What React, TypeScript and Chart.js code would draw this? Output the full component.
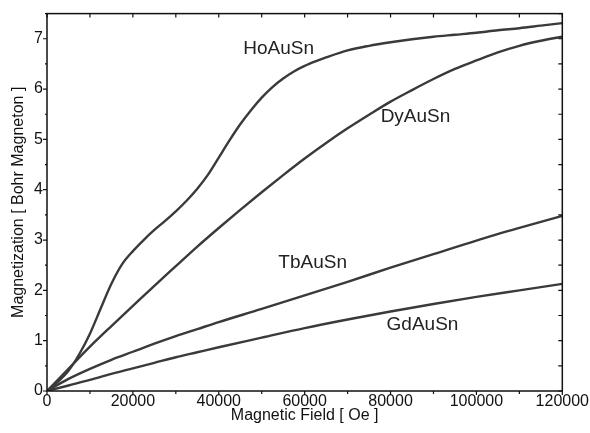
import React, { useEffect, useRef } from "react";
import { Chart, registerables } from "chart.js";

Chart.register(...registerables);

const hoField = [0, 2500, 5000, 7500, 10000, 12500, 15000, 17500, 20000, 22500, 25000, 27500, 30000, 32500, 35000, 37500, 40000, 42500, 45000, 47500, 50000, 52500, 55000, 57500, 60000, 62500, 65000, 70000, 75000, 80000, 85000, 90000, 95000, 100000, 105000, 110000, 115000, 120000];
const hoMag = [0, 0.18, 0.4, 0.73, 1.14, 1.64, 2.13, 2.52, 2.78, 3.0, 3.2, 3.38, 3.57, 3.78, 4.02, 4.3, 4.64, 4.98, 5.3, 5.58, 5.83, 6.04, 6.21, 6.35, 6.46, 6.55, 6.63, 6.77, 6.86, 6.93, 6.99, 7.04, 7.08, 7.12, 7.17, 7.21, 7.26, 7.31];

const dyField = [0, 5000, 10000, 15000, 20000, 25000, 30000, 35000, 40000, 45000, 50000, 55000, 60000, 65000, 70000, 75000, 80000, 85000, 90000, 95000, 100000, 105000, 110000, 115000, 120000];
const dyMag = [0, 0.44, 0.88, 1.29, 1.69, 2.09, 2.48, 2.87, 3.24, 3.6, 3.95, 4.29, 4.62, 4.93, 5.22, 5.49, 5.75, 5.98, 6.2, 6.4, 6.57, 6.73, 6.86, 6.96, 7.04];

const tbField = [0, 5000, 10000, 15000, 20000, 25000, 30000, 35000, 40000, 50000, 60000, 70000, 80000, 90000, 100000, 110000, 120000];
const tbMag = [0, 0.24, 0.44, 0.62, 0.78, 0.94, 1.09, 1.23, 1.37, 1.63, 1.9, 2.17, 2.45, 2.72, 2.99, 3.24, 3.48];

const gdField = [0, 5000, 10000, 15000, 20000, 25000, 30000, 35000, 40000, 50000, 60000, 70000, 80000, 90000, 100000, 110000, 120000];
const gdMag = [0, 0.11, 0.22, 0.34, 0.45, 0.56, 0.67, 0.77, 0.87, 1.06, 1.25, 1.42, 1.58, 1.73, 1.87, 2.0, 2.13];

const seriesNames = ["HoAuSn", "DyAuSn", "TbAuSn", "GdAuSn"];
const labelField = [53950, 85810, 61860, 87440];
const labelMag = [6.8, 5.45, 2.54, 1.31];

const xTitle = "Magnetic Field [ Oe ]";
const yTitle = "Magnetization [ Bohr Magneton ]";

const toPoints = (xs: number[], ys: number[]) => xs.map((x, i) => ({ x, y: ys[i] }));

const framePlugin = {
  id: "frameAndLabels",
  afterDraw(chart: any) {
    const { ctx, chartArea } = chart;
    const { left, right, top, bottom } = chartArea;
    const xs = chart.scales.x;
    const ys = chart.scales.y;
    ctx.save();
    ctx.strokeStyle = "#111";
    ctx.lineWidth = 1.5;
    ctx.strokeRect(left, top, right - left, bottom - top);
    ctx.lineWidth = 1.2;
    ctx.beginPath();
    for (let v = 0; v <= 120000; v += 10000) {
      const px = xs.getPixelForValue(v);
      const major = v % 20000 === 0;
      ctx.moveTo(px, bottom);
      ctx.lineTo(px, bottom + (major ? 4 : 3));
      ctx.moveTo(px, top);
      ctx.lineTo(px, top + 4);
    }
    for (let v = 0; v <= 7.5; v += 0.5) {
      const py = ys.getPixelForValue(v);
      const major = Math.abs(v - Math.round(v)) < 1e-6;
      ctx.moveTo(left, py);
      ctx.lineTo(left - (major ? 4 : 2), py);
      ctx.moveTo(right, py);
      ctx.lineTo(right - 4, py);
    }
    ctx.stroke();
    ctx.fillStyle = "#222";
    ctx.font = "19px 'Liberation Sans', Arial, sans-serif";
    ctx.textAlign = "center";
    ctx.textBaseline = "middle";
    seriesNames.forEach((name, i) => {
      ctx.fillText(name, xs.getPixelForValue(labelField[i]), ys.getPixelForValue(labelMag[i]));
    });
    ctx.restore();
  },
};

export default function App() {
  const ref = useRef<HTMLCanvasElement | null>(null);
  useEffect(() => {
    if (!ref.current) return;
    const lineStyle = {
      borderColor: "#3a3a3a",
      borderWidth: 2.4,
      pointRadius: 0,
      fill: false,
      cubicInterpolationMode: "monotone" as const,
    };
    const chart = new Chart(ref.current, {
      type: "line",
      data: {
        datasets: [
          { label: seriesNames[0], data: toPoints(hoField, hoMag), ...lineStyle },
          { label: seriesNames[1], data: toPoints(dyField, dyMag), ...lineStyle },
          { label: seriesNames[2], data: toPoints(tbField, tbMag), ...lineStyle },
          { label: seriesNames[3], data: toPoints(gdField, gdMag), ...lineStyle },
        ],
      },
      options: {
        responsive: false,
        animation: false,
        layout: { padding: { left: 0, right: 27, top: 12, bottom: 0 } },
        plugins: { legend: { display: false }, tooltip: { enabled: false } },
        scales: {
          x: {
            type: "linear",
            min: 0,
            max: 120000,
            grid: { display: false, drawTicks: false },
            border: { display: false },
            ticks: {
              stepSize: 20000,
              padding: 1,
              color: "#111",
              font: { family: "'Liberation Sans', Arial, sans-serif", size: 16 },
              callback: (v: any) => String(v),
              maxRotation: 0,
            },
            title: {
              display: true,
              text: xTitle,
              color: "#111",
              font: { family: "'Liberation Sans', Arial, sans-serif", size: 16 },
              padding: { top: 0, bottom: 8 },
            },
            afterFit: (s: any) => {
              s.height = 42;
            },
          },
          y: {
            type: "linear",
            min: 0,
            max: 7.5,
            grid: { display: false, drawTicks: false },
            border: { display: false },
            ticks: {
              stepSize: 1,
              padding: 4,
              color: "#111",
              font: { family: "'Liberation Sans', Arial, sans-serif", size: 16 },
              callback: (v: any) => (Number.isInteger(v) ? String(v) : ""),
            },
            title: {
              display: true,
              text: yTitle,
              color: "#111",
              font: { family: "'Liberation Sans', Arial, sans-serif", size: 16 },
              padding: { top: 9, bottom: 0 },
            },
            afterFit: (s: any) => {
              s.width = 47;
            },
          },
        },
      },
      plugins: [framePlugin],
    });
    return () => chart.destroy();
  }, []);
  return (
    <div style={{ position: "fixed", left: 0, top: 0, width: 590, height: 433, background: "#fff" }}>
      <canvas ref={ref} width={590} height={433} />
    </div>
  );
}
